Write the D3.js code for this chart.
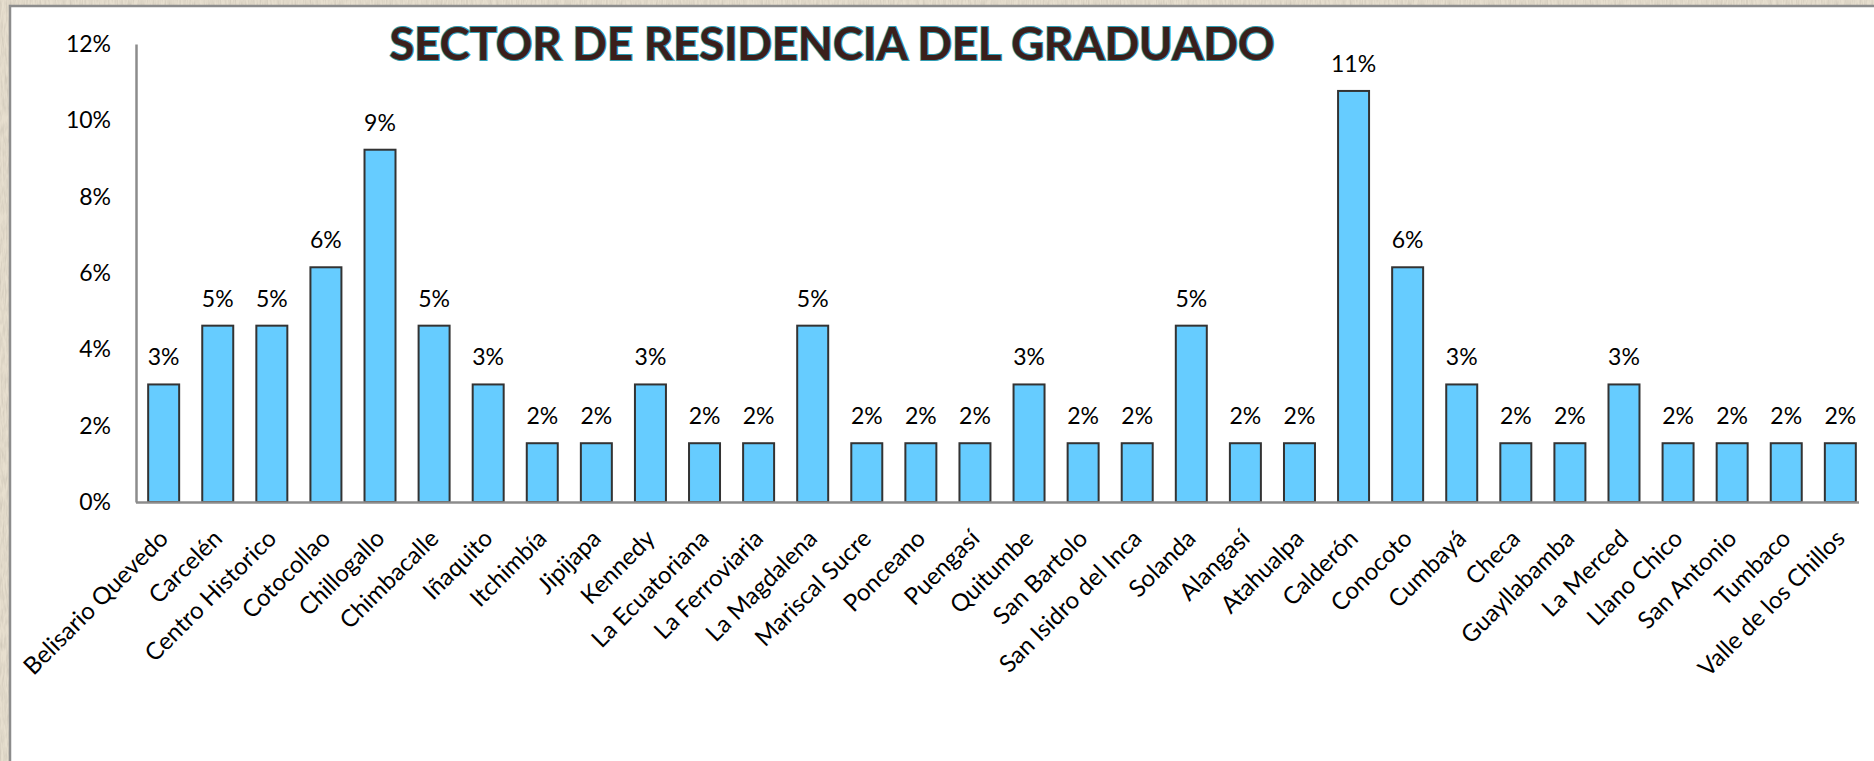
<!DOCTYPE html>
<html>
<head>
<meta charset="utf-8">
<script src="https://cdn.jsdelivr.net/npm/d3@7/dist/d3.min.js"></script>
<style>
  html, body { margin: 0; padding: 0; background: #e7dfcf; }
  svg { display: block; }
</style>
</head>
<body>
<svg id="chart" width="1874" height="761"></svg>
<script>
const titleText = "SECTOR DE RESIDENCIA DEL GRADUADO";
const categories = [
  "Belisario Quevedo", "Carcelén", "Centro Historico", "Cotocollao", "Chillogallo",
  "Chimbacalle", "Iñaquito", "Itchimbía", "Jipijapa", "Kennedy", "La Ecuatoriana",
  "La Ferroviaria", "La Magdalena", "Mariscal Sucre", "Ponceano", "Puengasí",
  "Quitumbe", "San Bartolo", "San Isidro del Inca", "Solanda", "Alangasí",
  "Atahualpa", "Calderón", "Conocoto", "Cumbayá", "Checa", "Guayllabamba",
  "La Merced", "Llano Chico", "San Antonio", "Tumbaco", "Valle de los Chillos"
];
// percentages
const values = [
  3.08, 4.62, 4.62, 6.15, 9.23,
  4.62, 3.08, 1.54, 1.54, 3.08, 1.54,
  1.54, 4.62, 1.54, 1.54, 1.54,
  3.08, 1.54, 1.54, 4.62, 1.54,
  1.54, 10.77, 6.15, 3.08, 1.54, 1.54,
  3.08, 1.54, 1.54, 1.54, 1.54
];
const yTicks = [0, 2, 4, 6, 8, 10, 12];

const svg = d3.select("#chart");
const W = 1874, H = 761;

// parchment texture
const defs = svg.append("defs");
const f = defs.append("filter").attr("id", "paper").attr("x", 0).attr("y", 0).attr("width", "100%").attr("height", "100%");
f.append("feTurbulence").attr("type", "fractalNoise").attr("baseFrequency", "0.6 0.08").attr("numOctaves", 3).attr("seed", 4).attr("result", "noise");
f.append("feColorMatrix").attr("in", "noise").attr("type", "matrix")
  .attr("values", "0 0 0 0 0.55  0 0 0 0 0.50  0 0 0 0 0.42  0 0 0 -1.1 0.75").attr("result", "tint");
f.append("feComposite").attr("in", "tint").attr("in2", "SourceGraphic").attr("operator", "over");
svg.append("rect").attr("width", W).attr("height", H).attr("fill", "#e7dfcf").attr("filter", "url(#paper)");

// white chart panel
svg.append("rect").attr("x", 10).attr("y", 6).attr("width", W).attr("height", H)
  .attr("fill", "#ffffff").attr("stroke", "#8c8c8c").attr("stroke-width", 2.5);

const font = "Lato, 'Open Sans', sans-serif";
const fs = 23;
const x0 = 136, x1 = 1868, xEnd = 1859, yBase = 502, yTop = 44;

const x = d3.scaleBand().domain(categories).range([x0, x1]).paddingInner(0.427).paddingOuter(0.225);
const y = d3.scaleLinear().domain([0, 12]).range([yBase, yTop]);

// y axis
const yAxis = d3.axisLeft(y).tickValues(yTicks).tickSize(0).tickPadding(25).tickFormat(d => d + "%");
const gy = svg.append("g").attr("transform", `translate(${x0},0)`).call(yAxis);
gy.select(".domain").attr("stroke", "#8c8c8c").attr("stroke-width", 2.5);
gy.selectAll("text").attr("font-family", font).attr("font-size", fs).attr("fill", "#000");

// bars
svg.append("g").selectAll("rect").data(values).join("rect")
  .attr("x", (d, i) => x(categories[i]))
  .attr("y", d => y(d))
  .attr("width", x.bandwidth())
  .attr("height", d => y(0) - y(d))
  .attr("fill", "#66CCFF")
  .attr("stroke", "#333333")
  .attr("stroke-width", 2);

// x axis (baseline + labels)
const xAxis = d3.axisBottom(x).tickSize(0).tickPadding(0);
const gx = svg.append("g").attr("transform", `translate(0,${yBase})`).call(xAxis);
gx.select(".domain").attr("d", `M${x0},0.5H${xEnd}`).attr("stroke", "#8c8c8c").attr("stroke-width", 2.5);
gx.selectAll(".tick text")
  .attr("font-family", font).attr("font-size", 24).attr("fill", "#000")
  .attr("text-anchor", "end").attr("dy", null).attr("y", null)
  .attr("transform", "translate(6,38) rotate(-45)");

// value labels
svg.append("g").selectAll("text").data(values).join("text")
  .attr("x", (d, i) => x(categories[i]) + x.bandwidth() / 2)
  .attr("y", d => y(d) - 19)
  .attr("text-anchor", "middle")
  .attr("font-family", font).attr("font-size", fs).attr("fill", "#000")
  .text(d => Math.round(d) + "%");

// title
svg.append("text")
  .attr("x", 832).attr("y", 60)
  .attr("text-anchor", "middle")
  .attr("font-family", font).attr("font-weight", 700).attr("font-size", 46)
  .attr("textLength", 885).attr("lengthAdjust", "spacingAndGlyphs")
  .attr("fill", "#3b1f1b").attr("stroke", "#2f9db3").attr("stroke-width", 2)
  .attr("paint-order", "stroke")
  .text(titleText);
</script>
</body>
</html>
